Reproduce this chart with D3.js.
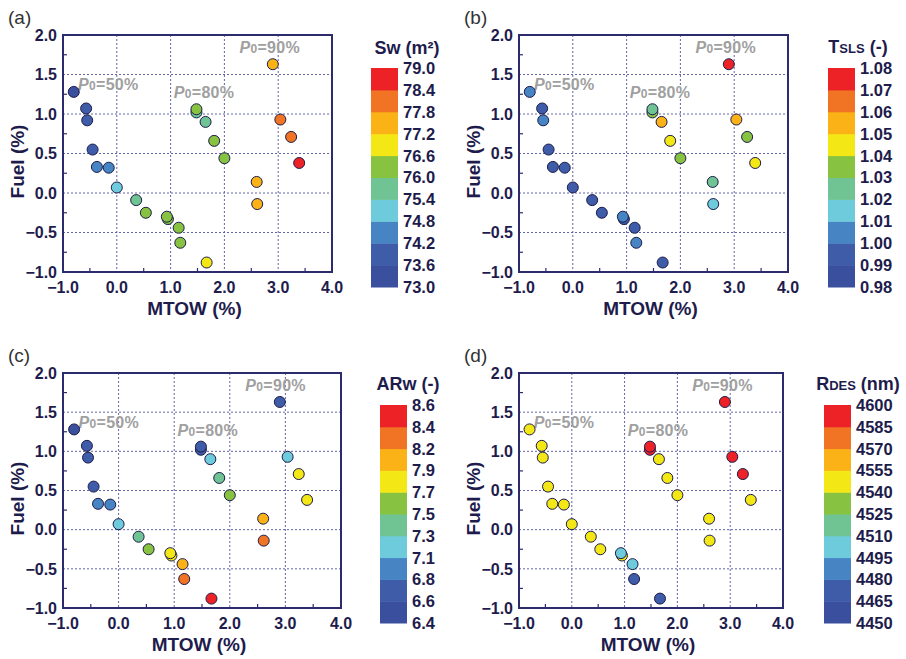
<!DOCTYPE html>
<html>
<head>
<meta charset="utf-8">
<script src="https://cdn.jsdelivr.net/npm/d3@7"></script>
<style>
  body { margin: 0; background: #fff; }
  text { font-family: "Liberation Sans", Arial, sans-serif; }
</style>
</head>
<body>
<svg id="chart" width="906" height="659"></svg>
<script>
// design points (same 25 points in every panel), drawn back to front
var mtow = [-0.80, -0.57, -0.55, -0.45, -0.37, -0.15, 0.00, 0.36, 0.54, 0.95, 0.93, 1.15, 1.18, 1.67,
            1.48, 1.48, 1.65, 1.81, 2.00, 2.60, 2.61, 2.90, 3.04, 3.24, 3.39];
var fuel = [1.28, 1.07, 0.92, 0.55, 0.33, 0.32, 0.07, -0.09, -0.25, -0.33, -0.30, -0.44, -0.63, -0.88,
            1.02, 1.06, 0.90, 0.66, 0.44, 0.14, -0.14, 1.63, 0.93, 0.71, 0.38];

// colour variable of each panel
var swVals   = [73.3, 73.8, 73.9, 74.0, 74.5, 74.4, 75.0, 75.6, 76.1, 76.2, 76.3, 76.4, 76.5, 76.8,
                75.9, 76.1, 75.8, 76.2, 76.4, 77.4, 77.5, 77.6, 78.0, 78.2, 78.7];
var tslsVals = [1.004, 0.993, 1.002, 0.996, 0.995, 0.994, 0.997, 0.995, 0.996, 0.997, 1.001, 0.998, 1.003, 0.994,
                1.034, 1.026, 1.053, 1.045, 1.035, 1.024, 1.015, 1.076, 1.054, 1.036, 1.044];
var arVals   = [6.50, 6.70, 6.70, 6.75, 6.95, 7.00, 7.20, 7.40, 7.60, 7.80, 7.80, 8.00, 8.30, 8.50,
                6.70, 6.70, 7.20, 7.40, 7.60, 8.05, 8.30, 6.65, 7.20, 7.80, 7.85];
var rdesVals = [4547, 4548, 4546, 4549, 4547, 4545, 4548, 4546, 4547, 4549, 4502, 4503, 4472, 4470,
                4592, 4594, 4548, 4547, 4546, 4549, 4547, 4595, 4593, 4590, 4548];

// colour bar tick labels (bottom to top)
var swTicks   = ["73.0", "73.6", "74.2", "74.8", "75.4", "76.0", "76.6", "77.2", "77.8", "78.4", "79.0"];
var tslsTicks = ["0.98", "0.99", "1.00", "1.01", "1.02", "1.03", "1.04", "1.05", "1.06", "1.07", "1.08"];
var arTicks   = ["6.4", "6.6", "6.8", "7.1", "7.3", "7.5", "7.7", "7.9", "8.2", "8.4", "8.6"];
var rdesTicks = ["4450", "4465", "4480", "4495", "4510", "4525", "4540", "4555", "4570", "4585", "4600"];
var bandColors = ["#3a4f9e", "#3f5ca8", "#4684c4", "#6dcbdb", "#70c493",
                  "#87c241", "#f4e716", "#fbb217", "#f07424", "#ec2227"];

var xTicks = [-1, 0, 1, 2, 3, 4];
var yTicks = [-1, -0.5, 0, 0.5, 1, 1.5, 2];
var xMinor = [-0.5, 0.5, 1.5, 2.5, 3.5];
var yMinor = [-0.75, -0.25, 0.25, 0.75, 1.25, 1.75];

var noteLabels = ["50%", "80%", "90%"];
var noteX = [-0.72, 1.06, 2.28];
var noteY = [1.30, 1.20, 1.77];

var navy = "#2c2b6e", ink = "#1e1c4c";
var svg = d3.select("#chart");
svg.append("rect").attr("width", 906).attr("height", 659).attr("fill", "#fff");

var panels = [
    {tag: "(a)", vals: swVals, ticks: swTicks, title: [["Sw (m²)", 18]],
     l: 63, r: 332, t: 35, b: 272, barX: 371, barT: 68, barB: 287, titleX: 407, titleY: 54, tagX: 8, tagY: 24},
    {tag: "(b)", vals: tslsVals, ticks: tslsTicks, title: [["T", 18], ["SLS", 13], [" (-)", 18]],
     l: 519, r: 788, t: 35, b: 272, barX: 828, barT: 68, barB: 287, titleX: 858, titleY: 53, tagX: 464, tagY: 24},
    {tag: "(c)", vals: arVals, ticks: arTicks, title: [["ARw (-)", 18]],
     l: 63, r: 341, t: 373, b: 608, barX: 380, barT: 405, barB: 623, titleX: 408, titleY: 390, tagX: 8, tagY: 362},
    {tag: "(d)", vals: rdesVals, ticks: rdesTicks, title: [["R", 18], ["DES", 13], [" (nm)", 18]],
     l: 519, r: 783, t: 373, b: 608, barX: 824, barT: 405, barB: 623, titleX: 858, titleY: 390, tagX: 464, tagY: 362}
];

var fmt = d3.format(".1f");

panels.forEach(function (p) {
    var g = svg.append("g");
    var x = d3.scaleLinear().domain([-1, 4]).range([p.l, p.r]);
    var y = d3.scaleLinear().domain([-1, 2]).range([p.b, p.t]);
    var color = d3.scaleThreshold()
        .domain(p.ticks.slice(1, -1).map(Number))
        .range(bandColors);

    // dotted grid
    g.selectAll(".gx").data(xTicks.slice(1, -1)).join("line")
        .attr("x1", d => x(d)).attr("x2", d => x(d))
        .attr("y1", p.t).attr("y2", p.b)
        .attr("stroke", "#6464a8").attr("stroke-width", 1).attr("stroke-dasharray", "2,2");
    g.selectAll(".gy").data(yTicks.slice(1, -1)).join("line")
        .attr("y1", d => y(d)).attr("y2", d => y(d))
        .attr("x1", p.l).attr("x2", p.r)
        .attr("stroke", "#6464a8").attr("stroke-width", 1).attr("stroke-dasharray", "2,2");

    // minor ticks, inward
    g.selectAll(".mx").data(xMinor).join("line")
        .attr("x1", d => x(d)).attr("x2", d => x(d))
        .attr("y1", p.b).attr("y2", p.b - 4)
        .attr("stroke", navy).attr("stroke-width", 1.2);
    g.selectAll(".my").data(yMinor).join("line")
        .attr("y1", d => y(d)).attr("y2", d => y(d))
        .attr("x1", p.l).attr("x2", p.l + 4)
        .attr("stroke", navy).attr("stroke-width", 1.2);

    // frame
    g.append("rect")
        .attr("x", p.l).attr("y", p.t)
        .attr("width", p.r - p.l).attr("height", p.b - p.t)
        .attr("fill", "none").attr("stroke", navy).attr("stroke-width", 2);

    // tick labels
    g.selectAll(".tx").data(xTicks).join("text")
        .attr("x", d => x(d)).attr("y", p.b + 21)
        .attr("text-anchor", "middle")
        .attr("font-size", 16).attr("font-weight", "bold").attr("fill", ink)
        .text(d => fmt(d));
    g.selectAll(".ty").data(yTicks).join("text")
        .attr("x", p.l - 6).attr("y", d => y(d)).attr("dy", "0.36em")
        .attr("text-anchor", "end")
        .attr("font-size", 16).attr("font-weight", "bold").attr("fill", ink)
        .text(d => fmt(d));

    // axis titles
    g.append("text")
        .attr("x", (p.l + p.r) / 2 - 3).attr("y", p.b + 43)
        .attr("text-anchor", "middle")
        .attr("font-size", 19).attr("font-weight", "bold").attr("fill", ink)
        .text("MTOW (%)");
    g.append("text")
        .attr("transform", "translate(" + (p.l - 39) + "," + ((p.t + p.b) / 2 + 8) + ") rotate(-90)")
        .attr("text-anchor", "middle")
        .attr("font-size", 19).attr("font-weight", "bold").attr("fill", ink)
        .text("Fuel (%)");

    // panel tag
    g.append("text")
        .attr("x", p.tagX).attr("y", p.tagY)
        .attr("font-size", 19).attr("fill", "#333")
        .text(p.tag);

    // P0 annotations
    noteLabels.forEach(function (lab, i) {
        var t = g.append("text")
            .attr("x", x(noteX[i])).attr("y", y(noteY[i]))
            .attr("font-family", "'DejaVu Sans', Verdana, sans-serif")
            .attr("font-size", 16).attr("font-weight", "bold").attr("fill", "#a0a0a0")
            .attr("letter-spacing", 0.3);
        t.append("tspan").attr("font-style", "italic").text("P");
        t.append("tspan").attr("font-size", 12).text("0");
        t.append("tspan").text("=" + lab);
    });

    // points
    g.selectAll(".pt").data(mtow).join("circle")
        .attr("cx", d => x(d))
        .attr("cy", (d, i) => y(fuel[i]))
        .attr("r", 5.5)
        .attr("fill", (d, i) => color(p.vals[i]))
        .attr("stroke", "#1c1c4a").attr("stroke-width", 1);

    // colour bar
    var n = bandColors.length;
    var by = d3.scaleLinear().domain([0, n]).range([p.barB, p.barT]);
    g.selectAll(".band").data(bandColors).join("rect")
        .attr("x", p.barX).attr("width", 27)
        .attr("y", (d, i) => by(i + 1))
        .attr("height", (d, i) => by(i) - by(i + 1) + 0.5)
        .attr("fill", d => d);
    g.selectAll(".bl").data(p.ticks).join("text")
        .attr("x", p.barX + 32).attr("y", (d, i) => by(i)).attr("dy", "0.36em")
        .attr("font-size", 16.5).attr("font-weight", "bold").attr("fill", ink)
        .text(d => d);

    var tt = g.append("text")
        .attr("x", p.titleX).attr("y", p.titleY)
        .attr("text-anchor", "middle")
        .attr("font-weight", "bold").attr("fill", ink);
    p.title.forEach(function (part) {
        tt.append("tspan").attr("font-size", part[1]).text(part[0]);
    });
});
</script>
</body>
</html>
